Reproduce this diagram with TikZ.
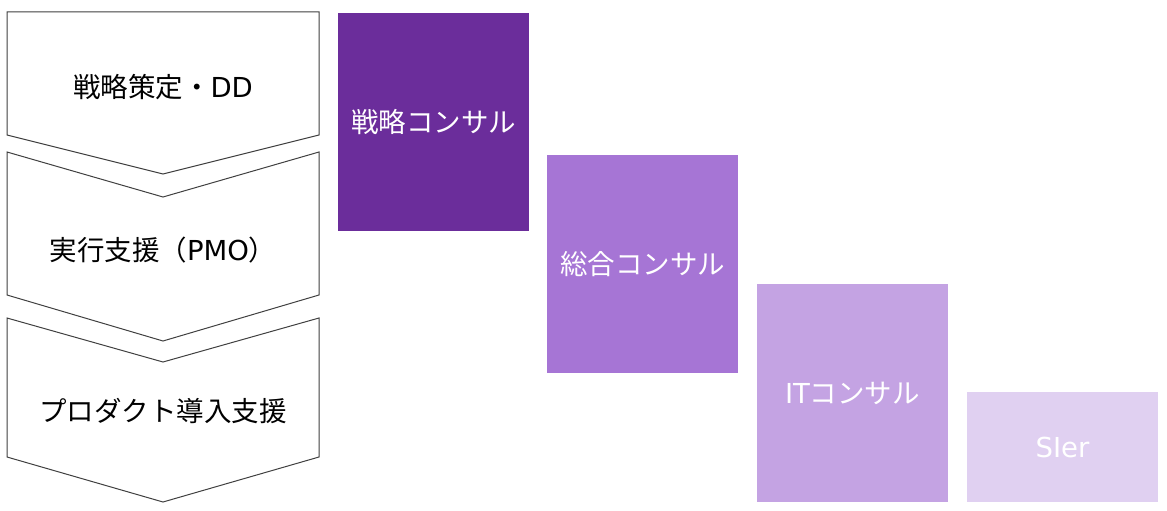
\documentclass[tikz,border=0pt]{standalone}
\usepackage{fontspec}
\setmainfont{Noto Sans CJK JP}
\newfontfamily\latinfont{DejaVu Sans}
\usepackage{xcolor}
\usetikzlibrary{positioning}
\definecolor{senryaku}{HTML}{6B2D9B}
\definecolor{sogo}{HTML}{A675D5}
\definecolor{itcons}{HTML}{C4A3E3}
\definecolor{sier}{HTML}{E0D0F1}
\newcommand{\lat}[1]{{\latinfont #1}}

\begin{document}
\begin{tikzpicture}[
    x = 1pt, y = -1pt,
    phase/.style = {draw = black!75, line width = 1pt, fill = white, line join = miter},
    phaselabel/.style = {inner sep = 0pt, text = black, font = \fontsize{27.5}{32}\selectfont},
    firm/.style = {rectangle, inner sep = 0pt, outer sep = 0pt, minimum width = 191pt, minimum height = 218pt, text = white, font = \fontsize{27.5}{32}\selectfont},
    ]
    \useasboundingbox (0,0) rectangle (1167,511);

    % process chevrons
    \draw [phase] (7,12) -- (319,12) -- (319,135) -- (163,174) -- (7,135) -- cycle;
    \draw [phase] (7,152) -- (163,197) -- (319,152) -- (319,295) -- (163,341) -- (7,295) -- cycle;
    \draw [phase] (7,318) -- (163,362) -- (319,318) -- (319,457) -- (163,502) -- (7,457) -- cycle;

    \node [phaselabel] (strategy) at (163,87) {戦略策定・\lat{DD}};
    \node [phaselabel] (pmo) at (163,250) {実行支援（\lat{PMO}）};
    \node [phaselabel] (product) at (163,411) {プロダクト導入支援};

    % consulting firms
    \node [firm, fill = senryaku, anchor = north west] (stratcons) at (338,13) {戦略コンサル};
    \node [firm, fill = sogo, anchor = north west] (sogocons) [below right = 142pt and 18pt of stratcons.north east] {総合コンサル};
    \node [firm, fill = itcons, anchor = north west] (itcons) [below right = 129pt and 19pt of sogocons.north east] {\lat{IT}コンサル};
    \node [firm, fill = sier, minimum height = 110pt] (sierbox) [right = 19pt of itcons.south east, anchor = south west] {\lat{SIer}};
\end{tikzpicture}
\end{document}
